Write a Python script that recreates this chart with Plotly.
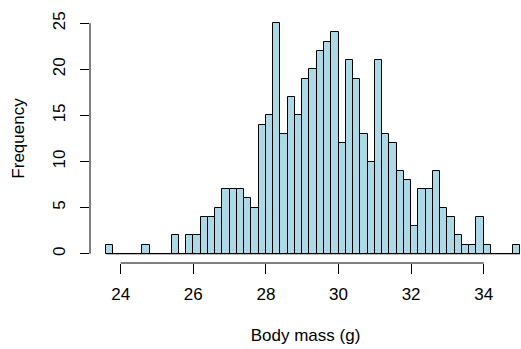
import plotly.graph_objects as go

bin_start = 23.6
bin_width = 0.2
counts = [1, 0, 0, 0, 0, 1, 0, 0, 0, 2, 0, 2, 2, 4, 4, 5, 7, 7, 7, 6, 5,
          14, 15, 25, 13, 17, 15, 19, 20, 22, 23, 24, 12, 21, 19, 13, 10,
          21, 13, 12, 9, 8, 3, 7, 7, 9, 5, 4, 2, 1, 1, 4, 1, 0, 0, 0, 1]
x_ticks = [24, 26, 28, 30, 32, 34]
y_ticks = [0, 5, 10, 15, 20, 25]
x_title = "Body mass (g)"
y_title = "Frequency"

centers = [bin_start + bin_width * (i + 0.5) for i in range(len(counts))]
edges_min = bin_start
edges_max = bin_start + bin_width * len(counts)

FONT = "Liberation Sans, Arial, Helvetica, sans-serif"

fig = go.Figure()
fig.add_trace(go.Scatter(x=[edges_min, edges_max], y=[0, 0], mode="lines",
                         line=dict(color="black", width=1), hoverinfo="skip",
                         showlegend=False, cliponaxis=False))
fig.add_trace(go.Bar(x=centers, y=counts, width=bin_width,
                     marker=dict(color="#ADD8E6", line=dict(color="black", width=1)),
                     showlegend=False))

fig.update_layout(
    width=521, height=349,
    margin=dict(l=90, r=0, t=14, b=86, pad=0),
    paper_bgcolor="white", plot_bgcolor="white",
    font=dict(family=FONT, size=17, color="black"),
    bargap=0,
    xaxis=dict(range=[23.154, 35.027], tickvals=x_ticks, ticks="outside", ticklen=10,
               tickcolor="black", tickwidth=1, showgrid=False, zeroline=False,
               showline=False, ticklabelstandoff=6, automargin=False,
               title=dict(text=x_title, standoff=25, font=dict(size=17))),
    yaxis=dict(range=[-1, 26], tickvals=y_ticks, ticks="outside", ticklen=9,
               tickcolor="black", tickwidth=1, showgrid=False, zeroline=False,
               showline=False, tickangle=-90, ticklabelstandoff=8, automargin=False,
               title=dict(text=y_title, standoff=21, font=dict(size=17))),
)
fig.add_shape(type="line", xref="x", yref="paper", x0=min(x_ticks), x1=max(x_ticks),
              y0=0, y1=0, line=dict(color="black", width=1))
fig.add_shape(type="line", xref="paper", yref="y", x0=0, x1=0,
              y0=min(y_ticks), y1=max(y_ticks), line=dict(color="black", width=1))

fig.write_html("out.html", config={"displayModeBar": False},
               post_script="document.body.style.margin='0';document.body.style.overflow='hidden';")
